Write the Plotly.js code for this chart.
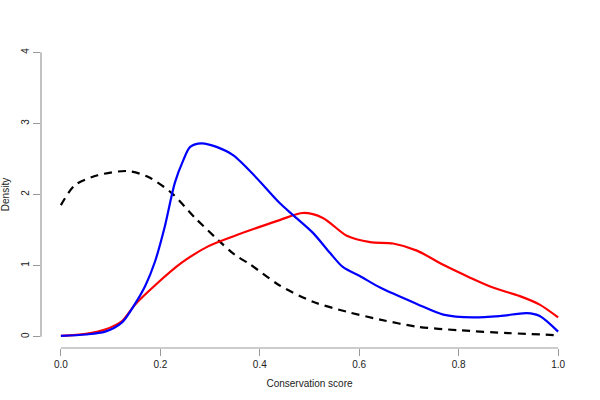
<!DOCTYPE html>
<html>
<head>
<meta charset="utf-8">
<script src="https://cdn.plot.ly/plotly-3.0.1.min.js"></script>
<style>html,body{margin:0;padding:0;background:#fff;}#chart{width:600px;height:400px;}</style>
</head>
<body>
<div id="chart"></div>
<script>
// Black dashed density
const blackX = [0.0, 0.028, 0.074, 0.133, 0.175, 0.223, 0.27, 0.316, 0.35, 0.38, 0.44, 0.507, 0.575, 0.642, 0.716, 0.8, 0.9, 1.0];
const blackY = [1.85, 2.13, 2.27, 2.33, 2.25, 2.02, 1.67, 1.36, 1.15, 1.02, 0.72, 0.49, 0.35, 0.24, 0.14, 0.09, 0.05, 0.02];
// Blue density
const blueX = [0.0, 0.05, 0.089, 0.123, 0.149, 0.17, 0.189, 0.209, 0.229, 0.246, 0.26, 0.283, 0.313, 0.347, 0.394, 0.44, 0.467, 0.507, 0.541, 0.567, 0.602, 0.642, 0.716, 0.769, 0.829, 0.883, 0.937, 0.963, 1.0];
const blueY = [0.01, 0.03, 0.07, 0.2, 0.46, 0.72, 1.05, 1.55, 2.16, 2.48, 2.67, 2.72, 2.67, 2.55, 2.23, 1.88, 1.71, 1.46, 1.18, 0.98, 0.85, 0.69, 0.46, 0.31, 0.27, 0.29, 0.33, 0.29, 0.07];
// Red density
const redX = [0.0, 0.05, 0.089, 0.123, 0.149, 0.189, 0.243, 0.296, 0.35, 0.394, 0.44, 0.487, 0.527, 0.575, 0.622, 0.668, 0.716, 0.769, 0.823, 0.869, 0.923, 0.963, 1.0];
const redY = [0.01, 0.04, 0.10, 0.22, 0.45, 0.72, 1.04, 1.27, 1.42, 1.53, 1.64, 1.74, 1.67, 1.42, 1.33, 1.31, 1.21, 1.01, 0.83, 0.69, 0.57, 0.45, 0.27];

const xTicks = [0, 0.2, 0.4, 0.6, 0.8, 1.0];
const xTickLabels = ["0.0", "0.2", "0.4", "0.6", "0.8", "1.0"];
const yTicks = [0, 1, 2, 3, 4];
const yTickLabels = ["0", "1", "2", "3", "4"];

const traces = [
  {x: blackX, y: blackY, type: 'scatter', mode: 'lines', line: {color: '#000', width: 2.2, dash: '8px,6px', shape: 'spline', smoothing: 0.8}, hoverinfo: 'skip'},
  {x: redX, y: redY, type: 'scatter', mode: 'lines', line: {color: '#ff0000', width: 2.2, shape: 'spline', smoothing: 0.8}, hoverinfo: 'skip'},
  {x: blueX, y: blueY, type: 'scatter', mode: 'lines', line: {color: '#0000ff', width: 2.2, shape: 'spline', smoothing: 0.8}, hoverinfo: 'skip'}
];

const font = {family: 'Liberation Sans, Arial, sans-serif', size: 10, color: '#222'};

const layout = {
  width: 600, height: 400,
  margin: {l: 41, r: 22, t: 41, b: 52},
  paper_bgcolor: '#fff', plot_bgcolor: '#fff',
  showlegend: false,
  font: font,
  xaxis: {
    range: [-0.04, 1.04], showgrid: false, zeroline: false, showline: false,
    tickvals: xTicks, ticktext: xTickLabels, ticks: 'outside', ticklen: 7, tickwidth: 1, tickcolor: '#999',
    tickfont: font,
    title: {text: 'Conservation score', font: font, standoff: 10}
  },
  yaxis: {
    range: [-0.16, 4.16], showgrid: false, zeroline: false, showline: false,
    tickvals: yTicks, ticktext: yTickLabels, ticks: 'outside', ticklen: 7, tickwidth: 1, tickcolor: '#999',
    tickangle: -90, tickfont: font,
    title: {text: 'Density', font: font, standoff: 8}
  },
  shapes: [
    {type: 'line', xref: 'x', yref: 'paper', x0: xTicks[0], x1: xTicks[xTicks.length-1], y0: 0, y1: 0, line: {color: '#999', width: 1.2}},
    {type: 'line', xref: 'paper', yref: 'y', x0: 0, x1: 0, y0: yTicks[0], y1: yTicks[yTicks.length-1], line: {color: '#999', width: 1.2}}
  ]
};

Plotly.newPlot('chart', traces, layout, {staticPlot: true, displayModeBar: false});
</script>
</body>
</html>
